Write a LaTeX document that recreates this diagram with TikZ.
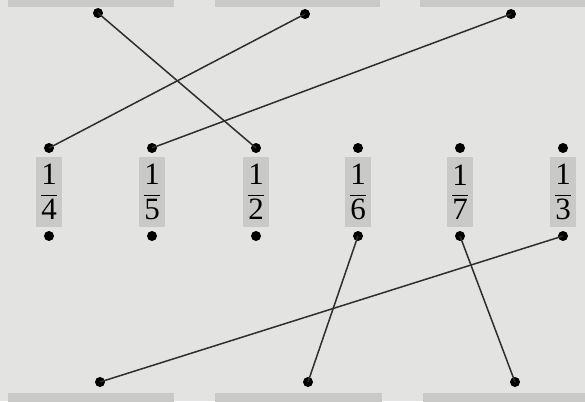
\documentclass[tikz,border=0pt]{standalone}
\usepackage{fontspec}
\setmainfont{Liberation Serif}
\usepackage{amsmath}
\definecolor{bg}{HTML}{E3E3E1}
\definecolor{boxg}{HTML}{C9C9C7}
\definecolor{ln}{HTML}{2E2E2E}
\newcommand\myfr[2]{\ensuremath{\dfrac{\mbox{#1}}{\mbox{#2}}}}
\tikzset{
  dot/.style={circle,fill=black,inner sep=0pt,minimum size=10pt},
  fracbox/.style={fill=boxg,minimum width=26pt,minimum height=70pt,inner sep=0pt,font=\fontsize{31}{34}\selectfont},
  bar/.style={fill=boxg,draw=none},
  link/.style={draw=ln,line width=1.5pt}
}
\begin{document}
\begin{tikzpicture}[x=1pt,y=-1pt]
\fill[bg] (0,0) rectangle (585,401);
\useasboundingbox (0,0) rectangle (585,401);
% top and bottom bars
\fill[bar] (8,-2) rectangle (174,7.5);
\fill[bar] (215,-2) rectangle (380,7.5);
\fill[bar] (420,-2) rectangle (587,7.5);
\fill[bar] (8,393) rectangle (174,403);
\fill[bar] (215,393) rectangle (382,403);
\fill[bar] (423,393) rectangle (587,403);
% fraction boxes
\node[fracbox] (f1) at (49,192) {\myfr{1}{4}};
\node[fracbox] (f2) at (152,192) {\myfr{1}{5}};
\node[fracbox] (f3) at (256,192) {\myfr{1}{2}};
\node[fracbox] (f4) at (358,192) {\myfr{1}{6}};
\node[fracbox] (f5) at (460,192) {\myfr{1}{7}};
\node[fracbox] (f6) at (563,192) {\myfr{1}{3}};
% dots
\node[dot] (t1) at (98,13) {};
\node[dot] (t2) at (305,14) {};
\node[dot] (t3) at (511,14) {};
\foreach \i/\x in {1/49,2/152,3/256,4/358,5/460,6/563}{
  \node[dot] (a\i) at (\x,148) {};
  \node[dot] (b\i) at (\x,236) {};
}
\node[dot] (d1) at (100,382) {};
\node[dot] (d2) at (308,382) {};
\node[dot] (d3) at (515,382) {};
% connectors
\draw[link] (t1.center) -- (a3.center);
\draw[link] (t2.center) -- (a1.center);
\draw[link] (t3.center) -- (a2.center);
\draw[link] (b6.center) -- (d1.center);
\draw[link] (b4.center) -- (d2.center);
\draw[link] (b5.center) -- (d3.center);
\end{tikzpicture}
\end{document}
